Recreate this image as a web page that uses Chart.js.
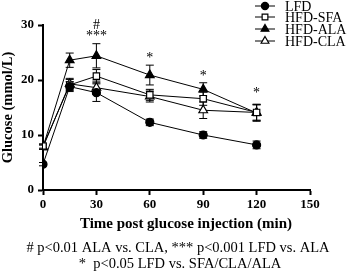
<!DOCTYPE html>
<html>
<head>
<meta charset="utf-8">
<script src="https://cdn.jsdelivr.net/npm/chart.js@4"></script>
<style>
html,body{margin:0;padding:0;background:#fff;}
#wrap{position:relative;width:350px;height:272px;}
</style>
</head>
<body>
<div id="wrap"><canvas id="c" width="350" height="272"></canvas></div>
<script>
const times = [0, 15, 30, 60, 90, 120];
const seriesNames = ['LFD', 'HFD-SFA', 'HFD-ALA', 'HFD-CLA'];
const lfd = [4.7, 18.8, 17.7, 12.3, 10.0, 8.2];
const lfdErr = [0.3, 0.9, 1.6, 0.6, 0.6, 0.7];
const sfa = [8.0, 19.1, 20.7, 17.3, 16.6, 14.1];
const sfaErr = [0.4, 1.0, 1.2, 1.0, 1.2, 1.5];
const ala = [7.8, 23.6, 24.4, 20.9, 18.3, 14.0];
const alaErr = [0.4, 1.3, 2.2, 1.8, 1.2, 1.5];
const cla = [7.8, 19.3, 18.6, 17.0, 14.5, 14.1];
const claErr = [0.4, 1.0, 1.2, 1.0, 1.5, 1.4];
const xTicks = [0, 30, 60, 90, 120, 150];
const yTicks = [0, 10, 20, 30];
const annotations = [
  {t: 30, y: 30.0, text: '#'},
  {t: 30, y: 28.0, text: '***'},
  {t: 60, y: 24.0, text: '*'},
  {t: 90, y: 20.6, text: '*'},
  {t: 120, y: 17.6, text: '*'}
];
const xTitle = 'Time post glucose injection (min)';
const footnote = ['# p<0.01 ALA vs. CLA, *** p<0.001 LFD vs. ALA', '*  p<0.05 LFD vs. SFA/CLA/ALA'];

const serif = '"Liberation Serif", "DejaVu Serif", serif';
const styles = [
  {pointStyle: 'circle', radius: 4, fill: '#000'},
  {pointStyle: 'rect', radius: 4.5, fill: '#fff'},
  {pointStyle: 'triangle', radius: 5, fill: '#000'},
  {pointStyle: 'triangle', radius: 5, fill: '#fff'}
];
const values = [lfd, sfa, ala, cla];
const errs = [lfdErr, sfaErr, alaErr, claErr];

const datasets = values.map((v, i) => ({
  label: seriesNames[i],
  data: times.map((t, j) => ({x: t, y: v[j]})),
  borderColor: '#000',
  borderWidth: 1,
  pointStyle: styles[i].pointStyle,
  pointRadius: styles[i].radius,
  pointBackgroundColor: styles[i].fill,
  pointBorderColor: '#000',
  pointBorderWidth: 1.2,
  tension: 0,
  fill: false,
  errs: errs[i]
}));

const errorBars = {
  id: 'errorBars',
  beforeDatasetsDraw(chart) {
    const ctx = chart.ctx;
    const xs = chart.scales.x, ys = chart.scales.y;
    ctx.save();
    ctx.strokeStyle = '#000';
    ctx.lineWidth = 1;
    chart.data.datasets.forEach(ds => {
      ds.data.forEach((p, j) => {
        const e = ds.errs[j];
        const px = xs.getPixelForValue(p.x);
        const top = ys.getPixelForValue(p.y + e);
        const bot = ys.getPixelForValue(p.y - e);
        ctx.beginPath();
        ctx.moveTo(px, top); ctx.lineTo(px, bot);
        ctx.moveTo(px - 4, top); ctx.lineTo(px + 4, top);
        ctx.moveTo(px - 4, bot); ctx.lineTo(px + 4, bot);
        ctx.stroke();
      });
    });
    ctx.restore();
  },
  afterDraw(chart) {
    const ctx = chart.ctx;
    const xs = chart.scales.x, ys = chart.scales.y;
    ctx.save();
    ctx.fillStyle = '#000';
    ctx.textAlign = 'center';
    ctx.textBaseline = 'middle';
    ctx.font = '14px ' + serif;
    annotations.forEach(a => {
      ctx.fillText(a.text, xs.getPixelForValue(a.t), ys.getPixelForValue(a.y));
    });
    // x-axis title
    ctx.font = 'bold 15px ' + serif;
    ctx.fillText(xTitle, 186, 224);
    // footnote
    ctx.font = '14.5px ' + serif;
    ctx.fillText(footnote[0], 178, 248);
    ctx.fillText(footnote[1], 180, 264);
    // legend
    const lx = 255, ly = [6, 17, 29, 41];
    ctx.font = '14px ' + serif;
    ctx.textAlign = 'left';
    seriesNames.forEach((name, i) => {
      const y = ly[i];
      ctx.strokeStyle = '#000';
      ctx.lineWidth = 1;
      ctx.beginPath();
      ctx.moveTo(lx, y); ctx.lineTo(lx + 20, y);
      ctx.stroke();
      ctx.fillStyle = styles[i].fill;
      ctx.strokeStyle = '#000';
      ctx.lineWidth = 1.2;
      Chart.helpers.drawPoint(ctx, {
        pointStyle: styles[i].pointStyle,
        radius: styles[i].radius * 0.9,
        borderWidth: 1.2
      }, lx + 10, y);
      ctx.fillStyle = '#000';
      ctx.fillText(name, lx + 30, y + 1);
    });
    ctx.restore();
  }
};

new Chart(document.getElementById('c'), {
  type: 'line',
  data: {datasets},
  plugins: [errorBars],
  options: {
    responsive: false,
    animation: false,
    layout: {padding: {top: 25, right: 40, left: 0, bottom: 36}},
    plugins: {
      legend: {display: false},
      tooltip: {enabled: false},
      title: {display: false}
    },
    scales: {
      x: {
        type: 'linear',
        min: 0, max: 150,
        afterBuildTicks(scale) { scale.ticks = xTicks.map(v => ({value: v})); },
        afterFit(scale) { scale.height = 46; },
        ticks: {color: '#000', font: {family: serif, size: 13, weight: 'bold'}, padding: 2},
        grid: {drawOnChartArea: false, drawTicks: true, tickLength: 5, color: '#000', tickWidth: 2},
        border: {color: '#000', width: 2},
        title: {display: false}
      },
      y: {
        type: 'linear',
        min: 0, max: 30,
        afterBuildTicks(scale) { scale.ticks = yTicks.map(v => ({value: v})); },
        afterFit(scale) { scale.width = 43; },
        ticks: {color: '#000', font: {family: serif, size: 13, weight: 'bold'}, padding: 4},
        grid: {drawOnChartArea: false, drawTicks: true, tickLength: 5, color: '#000', tickWidth: 2},
        border: {color: '#000', width: 2},
        title: {display: true, text: 'Glucose (mmol/L)', color: '#000',
          font: {family: serif, size: 14.5, weight: 'bold'}, padding: {top: 0, bottom: 0}}
      }
    }
  }
});
</script>
</body>
</html>
